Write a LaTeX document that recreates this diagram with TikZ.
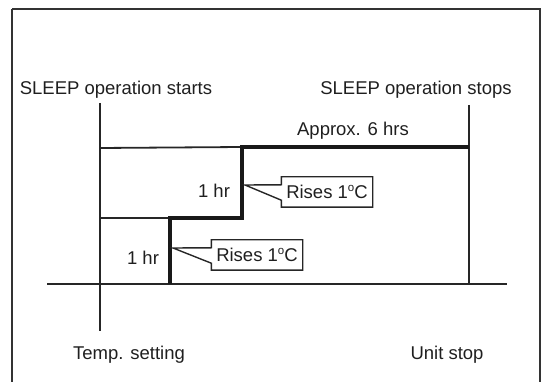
\documentclass[tikz,border=0pt]{standalone}
\usepackage{fontspec}
\setmainfont{Liberation Sans}
\begin{document}
\begin{tikzpicture}[x=1pt,y=-1pt,
  thin line/.style={line width=1.8pt,draw=black!85},
  thick line/.style={line width=3.8pt,draw=black!90,line join=miter},
  lbl/.style={font=\fontsize{18.5}{20}\selectfont,inner sep=0pt,text=black!88},
  callbox/.style={lbl,minimum width=91pt,minimum height=30pt},
  callout/.style={line width=1.4pt,draw=black!85,fill=white,line join=miter}]
\useasboundingbox (0,0) rectangle (541,382);
% frame
\draw[line width=1.8pt,draw=black!80] (12,9) -- (540,9) -- (540,395) (12,9) -- (12,395);
% axes
\coordinate (bl) at (47,284);
\coordinate (br) at (507,284);
\coordinate (lt) at (100,103);
\coordinate (lb) at (100,331);
\coordinate (rt) at (469,105);
\coordinate (rb) at (469,284);
\draw[thin line] (bl) -- (br);
\draw[thin line] (lt) -- (lb);
\draw[thin line] (rt) -- (rb);
% level lines
\coordinate (s1) at (170,284);
\coordinate (s2) at (170,218);
\coordinate (s3) at (242,218);
\coordinate (s4) at (242,147);
\coordinate (s5) at (469,147);
\draw[thin line] (100,218) -- (s2);
\draw[thin line] (100,148) -- (s4);
\draw[thick line] (s1) -- (s2) -- (s3) -- (s4) -- (s5);
% labels
\node[lbl] (start) at (116,90) {SLEEP operation starts};
\node[lbl] (stop) at (416,90) {SLEEP operation stops};
\node[lbl] (six) at (353,131) {Approx. 6 hrs};
\node[lbl] (hr2) at (214,191) {1 hr};
\node[lbl] (hr1) at (143,258) {1 hr};
\node[lbl] (temp) at (129,355) {Temp. setting};
\node[lbl] (unit) at (447,355) {Unit stop};
% callouts
\newcommand{\risetext}{Rises 1\raisebox{7.5pt}{\fontsize{11.5}{12}\selectfont o}C}
\coordinate (tip1) at (173,248);
\node[callbox] (c1) at (257,255) {\risetext};
\draw[callout] (c1.north west) -- (c1.north east) -- (c1.south east) -- (c1.south west)
  -- ([yshift=7pt]c1.south west) -- (tip1) -- ([yshift=-8pt]c1.north west) -- cycle;
\node[callbox] at (c1) {\risetext};
\coordinate (tip2) at (245,185);
\node[callbox] (c2) at (327,192) {\risetext};
\draw[callout] (c2.north west) -- (c2.north east) -- (c2.south east) -- (c2.south west)
  -- ([yshift=7pt]c2.south west) -- (tip2) -- ([yshift=-8pt]c2.north west) -- cycle;
\node[callbox] at (c2) {\risetext};
\end{tikzpicture}
\end{document}
